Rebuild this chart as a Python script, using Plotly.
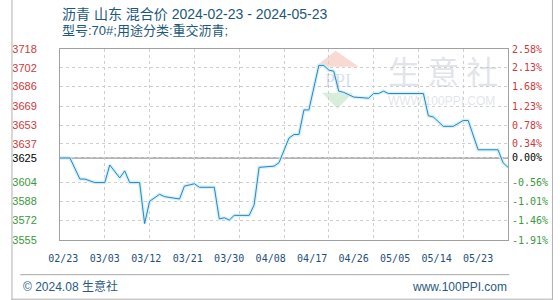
import pandas as pd
import plotly.graph_objects as go

# ---------------- data ----------------
dates = ["2024-02-23", "2024-02-25", "2024-02-27", "2024-02-28", "2024-03-01", "2024-03-03",
         "2024-03-04", "2024-03-06", "2024-03-07", "2024-03-08", "2024-03-10", "2024-03-11",
         "2024-03-12", "2024-03-14", "2024-03-15", "2024-03-18", "2024-03-19", "2024-03-21",
         "2024-03-22", "2024-03-25", "2024-03-26", "2024-03-27", "2024-03-28", "2024-03-29",
         "2024-04-01", "2024-04-02", "2024-04-03", "2024-04-06", "2024-04-07", "2024-04-09",
         "2024-04-10", "2024-04-11", "2024-04-12", "2024-04-13", "2024-04-15", "2024-04-16",
         "2024-04-17", "2024-04-18", "2024-04-19", "2024-04-20", "2024-04-22", "2024-04-24",
         "2024-04-25", "2024-04-26", "2024-04-27", "2024-04-28", "2024-04-29", "2024-05-06",
         "2024-05-07", "2024-05-08", "2024-05-10", "2024-05-12", "2024-05-14", "2024-05-15",
         "2024-05-17", "2024-05-21", "2024-05-22", "2024-05-23"]
prices = [3625, 3625, 3607, 3607, 3604, 3604,
          3619, 3608, 3614, 3604, 3604, 3569,
          3588, 3594, 3592, 3590, 3601, 3603,
          3600, 3600, 3573, 3574, 3572, 3576,
          3576, 3585, 3617, 3618, 3621, 3642,
          3645, 3645, 3666, 3666, 3704, 3704,
          3700, 3699, 3682, 3681, 3677, 3676,
          3676, 3680, 3680, 3682, 3680, 3680,
          3661, 3660, 3652, 3652, 3657, 3657,
          3632, 3632, 3621, 3617]
base_price = 3625

x_tick_dates = ["2024-02-23", "2024-03-03", "2024-03-12", "2024-03-21", "2024-03-30", "2024-04-08",
                "2024-04-17", "2024-04-26", "2024-05-05", "2024-05-14", "2024-05-23"]
x_tick_labels = ["02/23", "03/03", "03/12", "03/21", "03/30", "04/08",
                 "04/17", "04/26", "05/05", "05/14", "05/23"]
y_tick_vals = [3555, 3572, 3588, 3604, 3625, 3637, 3653, 3669, 3686, 3702, 3718]
y_tick_labels = ["3555", "3572", "3588", "3604", "3625", "3637", "3653", "3669", "3686", "3702", "3718"]
pct_labels = ["-1.91%", "-1.46%", "-1.01%", "-0.56%", "0.00%", "0.34%", "0.78%", "1.23%", "1.68%", "2.13%", "2.58%"]

title_1 = "沥青 山东 混合价 2024-02-23 - 2024-05-23"
title_2 = "型号:70#;用途分类:重交沥青;"
footer_left = "© 2024.08 生意社"
footer_right = "www.100PPI.com"

# ---------------- layout geometry ----------------
W, H = 560, 300
L, R, T, B = 50, 511.7, 49.3, 240.3
PW, PH = R - L, B - T


def px(x):
    return (x - L) / PW


def py(y):
    return (B - y) / PH


RED, GREEN, BLACK = "#cc3b3b", "#3a9a3a", "#000000"


def colour_for(v):
    if v > base_price:
        return RED
    if v < base_price:
        return GREEN
    return BLACK


left_text = [f'<span style="color:{colour_for(v)}">{t}</span>' for v, t in zip(y_tick_vals, y_tick_labels)]
right_text = [f'<span style="color:{colour_for(v)}">{t}</span>' for v, t in zip(y_tick_vals, pct_labels)]

x_dt = pd.to_datetime(dates)
tick_dt = pd.to_datetime(x_tick_dates)
x0, x1 = tick_dt[0], tick_dt[-1]
span_days = (x1 - x0) / pd.Timedelta(days=1)

# label axis: labels sit slightly left of grid lines (as in the reference)
lab_first_px, lab_last_px = 46.7, 474.3
scale = (lab_last_px - lab_first_px) / span_days  # px per day
a = (lab_first_px - L) / scale
b = a + PW / scale
lab_range = [x0 + pd.Timedelta(days=a), x0 + pd.Timedelta(days=b)]

fig = go.Figure()

# halo
fig.add_trace(go.Scatter(x=x_dt, y=prices, mode="lines",
                         line=dict(color="rgba(200,240,252,0.85)", width=3.5),
                         hoverinfo="skip", showlegend=False))
fig.add_trace(go.Scatter(x=x_dt, y=prices, mode="lines",
                         line=dict(color="#3682b2", width=1),
                         showlegend=False))
# invisible traces to activate secondary axes
fig.add_trace(go.Scatter(x=tick_dt, y=[base_price] * len(tick_dt), xaxis="x2", yaxis="y",
                         mode="markers", marker=dict(opacity=0), hoverinfo="skip", showlegend=False))
fig.add_trace(go.Scatter(x=x_dt, y=prices, xaxis="x", yaxis="y2",
                         mode="markers", marker=dict(opacity=0), hoverinfo="skip", showlegend=False))

grid = dict(showgrid=True, gridcolor="#cfcfcf", griddash="dot", gridwidth=1)

fig.update_layout(
    width=W, height=H,
    margin=dict(l=L, r=W - R, t=T, b=H - B, pad=0),
    paper_bgcolor="white", plot_bgcolor="white",
    showlegend=False,
    xaxis=dict(type="date", range=[x0, x1], tickvals=tick_dt, showticklabels=False,
               ticks="", showline=True, linecolor="#a0a0a0", linewidth=1, mirror=True,
               zeroline=False, **grid),
    xaxis2=dict(type="date", overlaying="x", anchor="y", side="bottom", range=lab_range,
                tickvals=tick_dt, ticktext=x_tick_labels, showgrid=False, showline=False,
                ticks="", zeroline=False, ticklabelstandoff=11,
                tickfont=dict(family="DejaVu Sans Mono", size=10, color="#1f4f7a")),
    yaxis=dict(range=[y_tick_vals[0], y_tick_vals[-1]], tickvals=y_tick_vals, ticktext=left_text,
               ticks="", showline=True, linecolor="#a0a0a0", linewidth=1, mirror=True,
               zeroline=False, ticklabelstandoff=20,
               tickfont=dict(family="Liberation Sans", size=11), **grid),
    yaxis2=dict(range=[y_tick_vals[0], y_tick_vals[-1]], tickvals=y_tick_vals, ticktext=right_text,
                overlaying="y", side="right", anchor="x", showgrid=False, showline=False,
                ticks="", zeroline=False, ticklabelstandoff=3,
                tickfont=dict(family="DejaVu Sans Mono", size=10)),
)

shapes = []
# base line at start price
shapes.append(dict(type="line", xref="paper", yref="y", x0=0, x1=1, y0=base_price, y1=base_price,
                   line=dict(color="#9a9a9a", width=1.5), layer="below"))
# watermark logo (house)
shapes.append(dict(type="path", xref="paper", yref="paper",
                   path=f"M {px(313)},{py(67)} L {px(334)},{py(51)} L {px(358)},{py(67)} Z",
                   fillcolor="rgba(235,150,130,0.35)", line=dict(width=0), layer="below"))
shapes.append(dict(type="path", xref="paper", yref="paper",
                   path=f"M {px(320)},{py(93)} L {px(352)},{py(93)} L {px(336)},{py(109)} Z",
                   fillcolor="rgba(140,205,150,0.35)", line=dict(width=0), layer="below"))
# footer separator
shapes.append(dict(type="line", xref="paper", yref="paper", x0=px(9), x1=px(513), y0=py(275), y1=py(275),
                   line=dict(color="#a8a8a8", width=1)))
# outer frame (left, right, bottom)
for (xa, ya, xb, yb) in [(0.5, 0, 0.5, 300), (557.5, 0, 557.5, 300), (0, 299.5, 558, 299.5)]:
    shapes.append(dict(type="line", xref="paper", yref="paper", x0=px(xa), x1=px(xb), y0=py(ya), y1=py(yb),
                       line=dict(color="#b0b0b0", width=1)))
fig.update_layout(shapes=shapes)

ann = []
ann.append(dict(text=title_1, xref="paper", yref="paper", x=px(50), y=py(14), xanchor="left", yanchor="middle",
                showarrow=False, font=dict(family="Liberation Sans, Noto Sans CJK SC", size=14, color="#1c5878")))
ann.append(dict(text=title_2, xref="paper", yref="paper", x=px(50), y=py(31), xanchor="left", yanchor="middle",
                showarrow=False, font=dict(family="Liberation Sans, Noto Sans CJK SC", size=13, color="#1c5878")))
ffont = dict(family="Liberation Sans, Noto Sans CJK SC", size=12, color="#2a5a82")
ann.append(dict(text=footer_left, xref="paper", yref="paper", x=px(10), y=py(287), xanchor="left", yanchor="middle",
                showarrow=False, font=ffont))
ann.append(dict(text=footer_right, xref="paper", yref="paper", x=px(513), y=py(287), xanchor="right", yanchor="middle",
                showarrow=False, font=ffont))
# watermark texts
ann.append(dict(text="PPI", xref="paper", yref="paper", x=px(337), y=py(81), xanchor="center", yanchor="middle",
                showarrow=False, font=dict(family="Liberation Serif", size=18, color="rgba(120,150,200,0.3)")))
ann.append(dict(text="生 意 社", xref="paper", yref="paper", x=px(445), y=py(70), xanchor="center", yanchor="middle",
                showarrow=False, font=dict(family="Noto Sans CJK SC", size=32, color="rgba(190,195,210,0.45)")))
ann.append(dict(text="WWW.100PPI.COM", xref="paper", yref="paper", x=px(443), y=py(101), xanchor="center",
                yanchor="middle", showarrow=False,
                font=dict(family="Liberation Sans", size=12, color="rgba(190,195,205,0.45)")))
fig.update_layout(annotations=ann)

fig.write_html("out.html")
